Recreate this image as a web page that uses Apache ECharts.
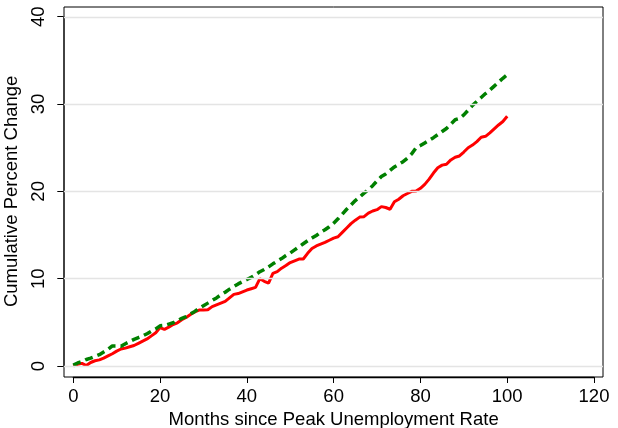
<!DOCTYPE html>
<html>
<head>
<meta charset="utf-8">
<script src="https://cdn.jsdelivr.net/npm/echarts@6/dist/echarts.min.js"></script>
<style>html,body{margin:0;padding:0;background:#fff}#c{width:618px;height:428px}</style>
</head>
<body>
<div id="c"></div>
<script>
// Months since peak unemployment rate (0..100)
var months = [];
for (var i = 0; i <= 100; i++) months.push(i);

// Red solid series (cumulative percent change)
var redValues = [
 0.0, 0.2, 0.3, 0.05, 0.4, 0.6, 0.7, 0.9, 1.15, 1.4,
 1.7, 1.95, 2.05, 2.2, 2.35, 2.6, 2.85, 3.1, 3.45, 3.8,
 4.4, 4.2, 4.45, 4.75, 4.95, 5.3, 5.55, 5.9, 6.2, 6.4,
 6.4, 6.45, 6.8, 7.0, 7.2, 7.4, 7.8, 8.2, 8.3, 8.5,
 8.7, 8.85, 9.0, 10.0, 9.7, 9.5, 10.6, 10.8, 11.2, 11.5,
 11.85, 12.05, 12.25, 12.25, 12.9, 13.45, 13.75, 13.95, 14.15, 14.4,
 14.65, 14.8, 15.3, 15.8, 16.3, 16.7, 17.05, 17.1, 17.5, 17.75,
 17.9, 18.25, 18.15, 17.95, 18.8, 19.1, 19.5, 19.75, 20.0, 20.05,
 20.35, 20.8, 21.4, 22.1, 22.7, 23.0, 23.1, 23.6, 23.9, 24.05,
 24.5, 25.0, 25.3, 25.7, 26.2, 26.3, 26.7, 27.15, 27.6, 28.0,
 28.6
];

// Green dashed series
var greenValues = [
 0.1, 0.35, 0.5, 0.75, 0.9, 1.1, 1.3, 1.6, 1.9, 2.3,
 2.3, 2.25, 2.55, 2.8, 3.05, 3.25, 3.45, 3.7, 4.0, 4.25,
 4.6, 4.65, 4.8, 4.95, 5.2, 5.45, 5.65, 5.95, 6.25, 6.6,
 6.9, 7.2, 7.5, 7.8, 8.15, 8.45, 8.8, 9.1, 9.4, 9.65,
 9.9, 10.15, 10.45, 10.8, 11.05, 11.35, 11.7, 12.0, 12.3, 12.65,
 12.95, 13.3, 13.65, 14.0, 14.35, 14.65, 14.95, 15.3, 15.6, 15.95,
 16.35, 16.85, 17.4, 17.95, 18.45, 18.95, 19.35, 19.8, 20.2, 20.65,
 21.2, 21.7, 22.0, 22.4, 22.8, 23.1, 23.4, 23.8, 24.3, 25.0,
 25.25, 25.55, 25.85, 26.15, 26.5, 26.85, 27.2, 27.7, 28.2, 28.35,
 28.75, 29.3, 29.85, 30.3, 30.75, 31.2, 31.6, 32.05, 32.5, 32.95,
 33.35
];

var yTicks = [0, 10, 20, 30, 40];
var xTitle = 'Months since Peak Unemployment Rate';
var yTitle = 'Cumulative Percent Change';

function pairs(xs, ys) { return xs.map(function (x, i) { return [x, ys[i]]; }); }

var font = 'Liberation Sans, Arial, Helvetica, sans-serif';
var fs = 18.5;
var chart = echarts.init(document.getElementById('c'), null, {renderer: 'canvas'});
chart.setOption({
  animation: false,
  backgroundColor: '#fff',
  grid: [
    {left: 64, right: 15, top: 7, bottom: 51, show: true, borderColor: '#000', borderWidth: 1,
     backgroundColor: 'transparent', containLabel: false, outerBoundsMode: 'none'},
    {left: 73.3, right: 24, top: 16.7, bottom: 62, containLabel: false, outerBoundsMode: 'none'}
  ],
  xAxis: [
    {gridIndex: 0, type: 'value', min: -2.26, max: 122.07, show: false},
    {gridIndex: 1, type: 'value', min: 0, max: 120, interval: 20, offset: 11,
     axisLine: {show: true, onZero: false, lineStyle: {color: '#000', width: 1.3}},
     axisTick: {show: true, inside: false, length: 6, lineStyle: {color: '#000', width: 1}},
     splitLine: {show: false},
     axisLabel: {color: '#000', fontSize: fs, fontFamily: font, margin: 10},
     name: xTitle, nameLocation: 'middle', nameGap: 27,
     nameTextStyle: {color: '#000', fontSize: fs, fontFamily: font}}
  ],
  yAxis: [
    {gridIndex: 0, type: 'value', min: -1.26, max: 41.12, show: false},
    {gridIndex: 1, type: 'value', min: 0, max: 40, interval: 10, offset: 10,
     axisLine: {show: true, onZero: false, lineStyle: {color: '#333', width: 1.6}},
     axisTick: {show: true, inside: false, length: 6, lineStyle: {color: '#000', width: 1}},
     splitLine: {show: false},
     axisLabel: {color: '#000', fontSize: fs, fontFamily: font, rotate: 90, margin: 15},
     name: yTitle, nameLocation: 'middle', nameGap: 27,
     nameTextStyle: {color: '#000', fontSize: fs, fontFamily: font}}
  ],
  series: [
    {type: 'line', xAxisIndex: 0, yAxisIndex: 0, data: [], silent: true,
     markLine: {silent: true, symbol: 'none', label: {show: false},
       lineStyle: {color: '#e4e4e4', width: 1.3, type: 'solid'},
       data: yTicks.map(function (v) { return {yAxis: v}; })}},
    {type: 'line', xAxisIndex: 1, yAxisIndex: 1, data: pairs(months, redValues),
     showSymbol: false, symbol: 'none', lineStyle: {color: '#ff0000', width: 3}, z: 3},
    {type: 'line', xAxisIndex: 1, yAxisIndex: 1, data: pairs(months, greenValues),
     showSymbol: false, symbol: 'none', lineStyle: {color: '#008000', width: 3.5, type: [8, 5]}, z: 4}
  ]
});
</script>
</body>
</html>
